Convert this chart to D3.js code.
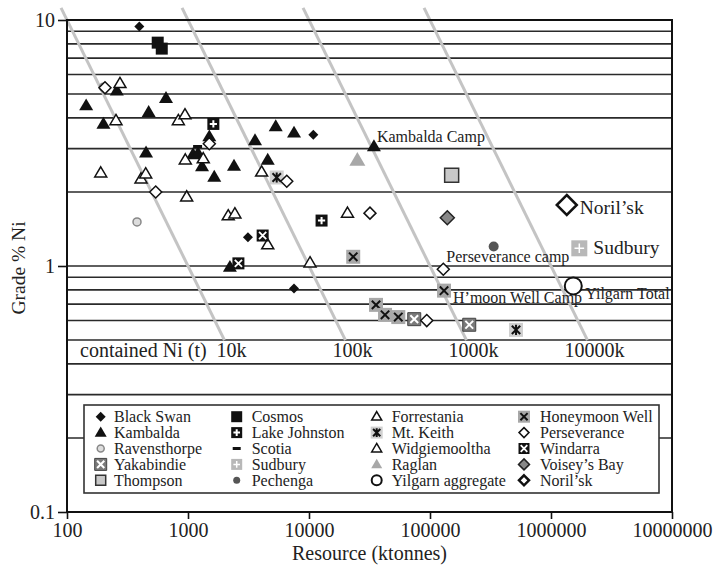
<!DOCTYPE html>
<html>
<head>
<meta charset="utf-8">
<script src="https://cdn.jsdelivr.net/npm/d3@7"></script>
<style>
  body { margin: 0; background: #fff; }
  text { font-family: "Liberation Serif", "Times New Roman", serif; fill: #222; }
</style>
</head>
<body>
<svg id="chart" width="715" height="572"></svg>
<script>
// each deposit: [resource (ktonnes), grade (% Ni)]
var blackSwan = [[396, 9.4], [10850, 3.42], [3130, 1.31], [7520, 0.81]];
var kambalda = [[144, 4.49], [258, 5.16], [200, 3.78], [658, 4.81], [473, 4.22], [450, 2.89],
    [1500, 3.36], [1100, 2.84], [1210, 2.87], [1306, 2.54], [1648, 2.30], [2400, 2.55],
    [3580, 3.24], [5310, 3.69], [7520, 3.48], [4560, 2.70], [2220, 0.99], [34400, 3.06]];
var ravensthorpe = [[200, 5.33], [379, 1.51]];
var yakabindie = [[74100, 0.608], [211000, 0.577]];
var thompson = [[151000, 2.34]];
var cosmos = [[562, 8.09], [607, 7.65]];
var lakeJohnston = [[1620, 3.78], [12700, 1.53]];
var scotia = [[1200, 3.06]];
var sudbury = [[1714000, 1.18]];
var pechenga = [[336000, 1.20]];
var forrestania = [[274, 5.52], [254, 3.90], [832, 3.90], [944, 4.12], [950, 2.70], [1337, 2.73],
    [190, 2.39], [409, 2.26], [447, 2.37], [975, 1.91]];
var mtKeith = [[5410, 2.29], [514000, 0.55]];
var widgiemooltha = [[2150, 1.60], [2440, 1.63], [4060, 2.41], [4560, 1.22], [10200, 1.03], [20800, 1.64]];
var raglan = [[25100, 2.69]];
var yilgarn = [[1528000, 0.83]];
var honeymoonWell = [[23200, 1.09], [130600, 0.794], [35800, 0.695], [42500, 0.633], [54700, 0.62]];
var perseverance = [[1500, 3.14], [6550, 2.21], [541, 2.00], [31900, 1.64], [128800, 0.97], [94000, 0.60], [206, 5.3]];
var windarra = [[4140, 1.33], [2610, 1.025]];
var voiseysBay = [[139000, 1.57]];
var norilsk = [[1350000, 1.77]];

// legend order is column by column
var seriesNames = ["Black Swan", "Kambalda", "Ravensthorpe", "Yakabindie", "Thompson",
    "Cosmos", "Lake Johnston", "Scotia", "Sudbury", "Pechenga",
    "Forrestania", "Mt. Keith", "Widgiemooltha", "Raglan", "Yilgarn aggregate",
    "Honeymoon Well", "Perseverance", "Windarra", "Voisey\u2019s Bay", "Noril\u2019sk"];
var seriesData = [blackSwan, kambalda, ravensthorpe, yakabindie, thompson,
    cosmos, lakeJohnston, scotia, sudbury, pechenga,
    forrestania, mtKeith, widgiemooltha, raglan, yilgarn,
    honeymoonWell, perseverance, windarra, voiseysBay, norilsk];

var gradeLines = [0.2, 0.3, 0.4, 0.5, 0.6, 0.7, 0.8, 0.9, 1, 2, 3, 4, 5, 6, 7, 8, 9, 10];
var xTicks = [100, 1000, 10000, 100000, 1000000, 10000000];
var yTicks = [0.1, 1, 10];
var containedNi = [10000, 100000, 1000000, 10000000];   // tonnes Ni
var containedLabels = ["10k", "100k", "1000k", "10000k"];

// callouts: [text, series, point index]
var callouts = [["Kambalda Camp", "Kambalda", 17], ["Noril\u2019sk", "Noril\u2019sk", 0],
    ["Sudbury", "Sudbury", 0], ["Perseverance camp", "Perseverance", 4],
    ["H\u2019moon Well Camp", "Honeymoon Well", 1], ["Yilgarn Total", "Yilgarn aggregate", 0]];

var W = 715, H = 572;
var plotLeft = 67, plotRight = 672, plotTop = 20, plotBottom = 512;

var x = d3.scaleLog().domain([100, 1e7]).range([plotLeft, plotRight]);
var y = d3.scaleLog().domain([0.1, 10]).range([plotBottom, plotTop]);

var svg = d3.select("#chart");

svg.append("defs").append("clipPath").attr("id", "plotclip")
    .append("rect").attr("x", plotLeft).attr("y", 0)
    .attr("width", plotRight - plotLeft).attr("height", plotBottom);

// grade grid
svg.append("g").selectAll("line").data(gradeLines).enter().append("line")
    .attr("x1", plotLeft).attr("x2", plotRight)
    .attr("y1", d => y(d)).attr("y2", d => y(d))
    .attr("stroke", "#2a2a2a").attr("stroke-width", 1.6);

// contained nickel lines: t Ni = resource(kt) * grade * 10
var gStart = 11.2, gEnd = 0.5;
svg.append("g").selectAll("line").data(containedNi).enter().append("line")
    .attr("x1", d => x(d / 10 / gStart)).attr("y1", y(gStart))
    .attr("x2", d => x(d / 10 / gEnd)).attr("y2", y(gEnd))
    .attr("stroke", "#c4c4c4").attr("stroke-width", 3);

svg.append("g").selectAll("text").data(containedNi).enter().append("text")
    .attr("x", d => x(d / 10 / gEnd) + 7).attr("y", y(gEnd) + 17)
    .attr("text-anchor", "middle").attr("font-size", 20)
    .text((d, i) => containedLabels[i]);
svg.append("text").attr("x", 80).attr("y", y(gEnd) + 17).attr("font-size", 20)
    .text("contained Ni (t)");

// frame
svg.append("rect").attr("x", plotLeft).attr("y", plotTop)
    .attr("width", plotRight - plotLeft).attr("height", plotBottom - plotTop)
    .attr("fill", "none").attr("stroke", "#111").attr("stroke-width", 2);

// axes
var xAxis = svg.append("g").attr("transform", "translate(0," + plotBottom + ")")
    .call(d3.axisBottom(x).tickValues(xTicks).tickFormat(d3.format("d")).tickSize(7).tickPadding(4));
var yAxis = svg.append("g").attr("transform", "translate(" + plotLeft + ",0)")
    .call(d3.axisLeft(y).tickValues(yTicks).tickFormat(d3.format("~g")).tickSize(9).tickPadding(3));
[xAxis, yAxis].forEach(function (a) {
    a.select(".domain").remove();
    a.selectAll("line").attr("stroke", "#111").attr("stroke-width", 1.6);
    a.selectAll("text").attr("font-size", 20).attr("font-family", "Liberation Serif").attr("fill", "#222");
});

svg.append("text").attr("x", (plotLeft + plotRight) / 2).attr("y", 560)
    .attr("text-anchor", "middle").attr("font-size", 20).text("Resource (ktonnes)");
svg.append("text").attr("transform", "translate(25,268) rotate(-90)")
    .attr("text-anchor", "middle").attr("font-size", 19.5).text("Grade % Ni");

// marker shapes
function diamond(r) { return "M0," + (-r) + "L" + r + ",0L0," + r + "L" + (-r) + ",0Z"; }
function triangle(w) { var h = w * 1.7; return "M0," + (-h * 0.6) + "L" + w + "," + (h * 0.4) + "L" + (-w) + "," + (h * 0.4) + "Z"; }
function square(a) { return "M" + (-a) + "," + (-a) + "h" + (2 * a) + "v" + (2 * a) + "h" + (-2 * a) + "Z"; }
function circle(r) { return "M" + (-r) + ",0a" + r + "," + r + " 0 1,0 " + (2 * r) + ",0a" + r + "," + r + " 0 1,0 " + (-2 * r) + ",0Z"; }
function dash(a) { return "M" + (-a) + ",-1.5h" + (2 * a) + "v3h" + (-2 * a) + "Z"; }
function xMark(a) { return "M" + (-a) + "," + (-a) + "L" + a + "," + a + "M" + a + "," + (-a) + "L" + (-a) + "," + a; }
function plusMark(a) { return "M0," + (-a) + "V" + a + "M" + (-a) + ",0H" + a; }
function starMark(a) { return xMark(a) + "M0," + (-a * 1.2) + "V" + (a * 1.2); }

var styles = {
    "Black Swan":        { shape: diamond, size: 5, legend: 5, fill: "#111" },
    "Kambalda":          { shape: triangle, size: 7, legend: 6, fill: "#111" },
    "Ravensthorpe":      { shape: circle, size: 4, legend: 3.5, fill: "#ddd", stroke: "#888", sw: 1.5 },
    "Yakabindie":        { shape: square, size: 6.5, legend: 6, fill: "#7a7a7a", stroke: "#444", sw: 1, mark: xMark, mc: "#fff", mw: 2 },
    "Thompson":          { shape: square, size: 7, legend: 5, fill: "#c8c8c8", stroke: "#333", sw: 1.5 },
    "Cosmos":            { shape: square, size: 6, legend: 5.5, fill: "#111" },
    "Lake Johnston":     { shape: square, size: 6, legend: 5.5, fill: "#111", mark: plusMark, mc: "#fff", mw: 2 },
    "Scotia":            { shape: dash, size: 4.5, legend: 4, fill: "#111" },
    "Sudbury":           { shape: square, size: 8, legend: 5.5, fill: "#b8b8b8", mark: plusMark, mc: "#fff", mw: 1.5 },
    "Pechenga":          { shape: circle, size: 5, legend: 3.5, fill: "#555" },
    "Forrestania":       { shape: triangle, size: 6, legend: 5, fill: "#fff", stroke: "#111", sw: 1.5 },
    "Mt. Keith":         { shape: square, size: 7, legend: 6, fill: "#d0d0d0", mark: starMark, mc: "#111", mw: 2 },
    "Widgiemooltha":     { shape: triangle, size: 6, legend: 5, fill: "#fff", stroke: "#111", sw: 1.5 },
    "Raglan":            { shape: triangle, size: 8, legend: 5.5, fill: "#a8a8a8" },
    "Yilgarn aggregate": { shape: circle, size: 8.5, legend: 5, fill: "#fff", stroke: "#111", sw: 2 },
    "Honeymoon Well":    { shape: square, size: 7, legend: 6, fill: "#a8a8a8", mark: xMark, mc: "#111", mw: 2 },
    "Perseverance":      { shape: diamond, size: 6, legend: 5, fill: "#fff", stroke: "#111", sw: 1.5 },
    "Windarra":          { shape: square, size: 6, legend: 5.5, fill: "#111", mark: xMark, mc: "#fff", mw: 1.8 },
    "Voisey\u2019s Bay": { shape: diamond, size: 7, legend: 5.5, fill: "#888", stroke: "#222", sw: 1.5 },
    "Noril\u2019sk":     { shape: diamond, size: 10, legend: 5, fill: "#fff", stroke: "#111", sw: 2.5 }
};

function drawMarker(g, name, r) {
    var s = styles[name];
    g.append("path").attr("d", s.shape(r))
        .attr("fill", s.fill).attr("stroke", s.stroke || "none").attr("stroke-width", s.sw || 0);
    if (s.mark) {
        g.append("path").attr("d", s.mark(r * 0.6))
            .attr("fill", "none").attr("stroke", s.mc).attr("stroke-width", s.mw);
    }
}

// points
var points = svg.append("g");
seriesNames.forEach(function (name, i) {
    points.selectAll(null).data(seriesData[i]).enter().append("g")
        .attr("transform", d => "translate(" + x(d[0]) + "," + y(d[1]) + ")")
        .each(function () { drawMarker(d3.select(this), name, styles[name].size); });
});

// callout labels
var calloutStyle = {
    "Kambalda Camp": { dx: 3, dy: -5, fs: 16 },
    "Noril\u2019sk": { dx: 13, dy: 9, fs: 19.5 },
    "Sudbury": { dx: 14, dy: 6, fs: 19.5 },
    "Perseverance camp": { dx: 3, dy: -7.5, fs: 16 },
    "H\u2019moon Well Camp": { dx: 9, dy: 12.5, fs: 16 },
    "Yilgarn Total": { dx: 12, dy: 13, fs: 16 }
};
var labels = svg.append("g").attr("clip-path", "url(#plotclip)");
callouts.forEach(function (c) {
    var d = seriesData[seriesNames.indexOf(c[1])][c[2]];
    var st = calloutStyle[c[0]];
    labels.append("text")
        .attr("x", x(d[0]) + st.dx).attr("y", y(d[1]) + st.dy)
        .attr("font-size", st.fs).text(c[0]);
});

// legend
var legend = svg.append("g");
legend.append("rect").attr("x", 84).attr("y", 405).attr("width", 575).attr("height", 88)
    .attr("fill", "#fff").attr("stroke", "#333").attr("stroke-width", 1.6);
var colMarker = [100.7, 236.7, 376.7, 524];
var colText = [114, 251.7, 391.7, 540];
seriesNames.forEach(function (name, i) {
    var col = Math.floor(i / 5), row = i % 5;
    var cy = 416.7 + row * 15.9;
    var g = legend.append("g").attr("transform", "translate(" + colMarker[col] + "," + cy + ")");
    drawMarker(g, name, styles[name].legend);
    legend.append("text").attr("x", colText[col]).attr("y", cy + 5.5)
        .attr("font-size", 16).text(name);
});
</script>
</body>
</html>
